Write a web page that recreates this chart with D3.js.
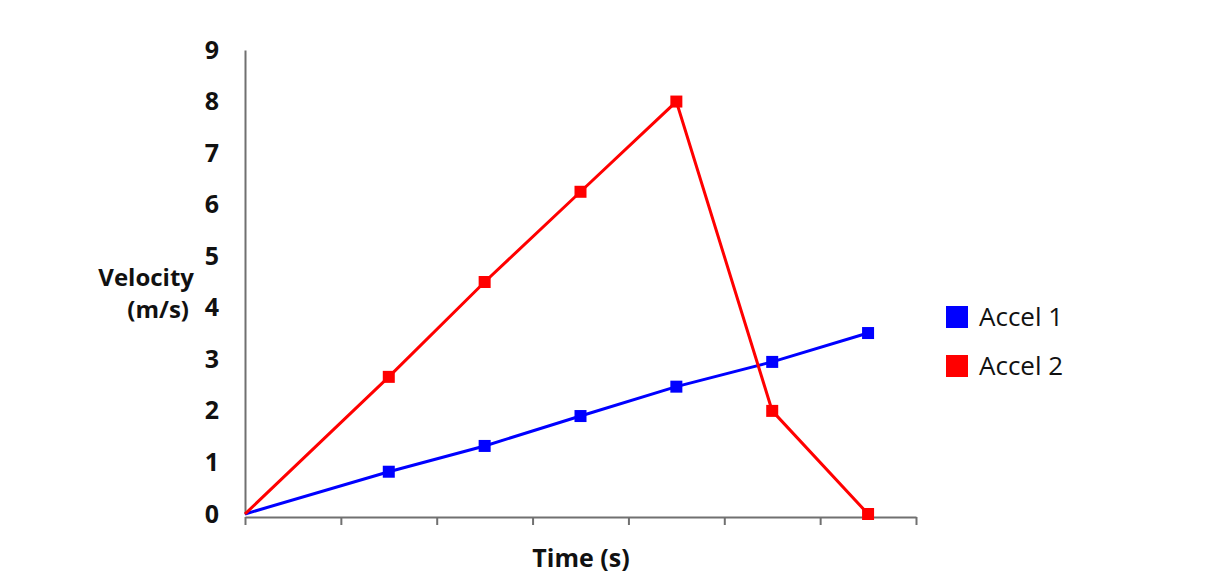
<!DOCTYPE html>
<html>
<head>
<meta charset="utf-8">
<script src="https://cdn.jsdelivr.net/npm/d3@7"></script>
<style>
  body { margin: 0; background: #fff; }
  text { font-family: "Open Sans", "Noto Sans", sans-serif; }
</style>
</head>
<body>
<svg id="chart" width="1210" height="584"></svg>
<script>
// time positions of the samples (axis runs 0..7)
const timeValues = [0, 1.5, 2.5, 3.5, 4.5, 5.5, 6.5];
const accel1 = [0, 0.82, 1.32, 1.9, 2.47, 2.95, 3.51];
const accel2 = [0, 2.66, 4.5, 6.25, 8, 2, 0];
const yTicks = [0, 1, 2, 3, 4, 5, 6, 7, 8, 9];
const seriesNames = ['Accel 1', 'Accel 2'];
const seriesColors = ['#0000ff', '#ff0000'];

const svg = d3.select('#chart');

const x = d3.scaleLinear().domain([0, 7]).range([245, 916]);
const y = d3.scaleLinear().domain([0, 9]).range([514, 50]);

// y axis: line only, no tick marks
const yAxis = svg.append('g')
    .attr('transform', 'translate(245,0)')
    .call(d3.axisLeft(y).tickValues(yTicks).tickSize(0).tickPadding(26));
yAxis.select('.domain').attr('stroke', '#707070').attr('stroke-width', 2);
yAxis.selectAll('text')
    .attr('font-size', 25).attr('font-weight', 'bold').attr('fill', '#111');

// x axis: ticks pointing down, no labels
const xAxis = svg.append('g')
    .attr('transform', 'translate(0,517)')
    .call(d3.axisBottom(x).tickValues(d3.range(0, 8)).tickSize(8).tickSizeOuter(0).tickFormat(''));
xAxis.select('.domain').attr('stroke', '#707070').attr('stroke-width', 2);
xAxis.selectAll('.tick line').attr('stroke', '#707070').attr('stroke-width', 2);

// axis titles
svg.append('text')
    .attr('x', 581).attr('y', 567)
    .attr('text-anchor', 'middle')
    .attr('font-size', 25).attr('font-weight', 'bold').attr('fill', '#111')
    .text('Time (s)');

const ytitle = svg.append('text')
    .attr('text-anchor', 'end')
    .attr('font-size', 24).attr('font-weight', 'bold').attr('fill', '#111');
ytitle.append('tspan').attr('x', 194).attr('y', 286).text('Velocity');
ytitle.append('tspan').attr('x', 189).attr('y', 318).text('(m/s)');

// series
const series = [accel1, accel2];
const line = d3.line()
    .x((d, i) => x(timeValues[i]))
    .y(d => y(d));

series.forEach((vals, s) => {
    svg.append('path')
        .datum(vals)
        .attr('d', line)
        .attr('fill', 'none')
        .attr('stroke', seriesColors[s])
        .attr('stroke-width', 3);

    svg.selectAll('.m' + s)
        .data(vals.slice(1))
        .enter()
        .append('rect')
        .attr('class', 'm' + s)
        .attr('x', (d, i) => x(timeValues[i + 1]) - 6)
        .attr('y', d => y(d) - 6)
        .attr('width', 12)
        .attr('height', 12)
        .attr('fill', seriesColors[s]);
});

// legend
const legend = svg.append('g').attr('transform', 'translate(946,306)');
seriesNames.forEach((name, i) => {
    legend.append('rect')
        .attr('x', 0).attr('y', i * 49)
        .attr('width', 22).attr('height', 22)
        .attr('fill', seriesColors[i]);
    legend.append('text')
        .attr('x', 33).attr('y', i * 49 + 20)
        .attr('font-size', 26).attr('fill', '#111')
        .text(name);
});
</script>
</body>
</html>
